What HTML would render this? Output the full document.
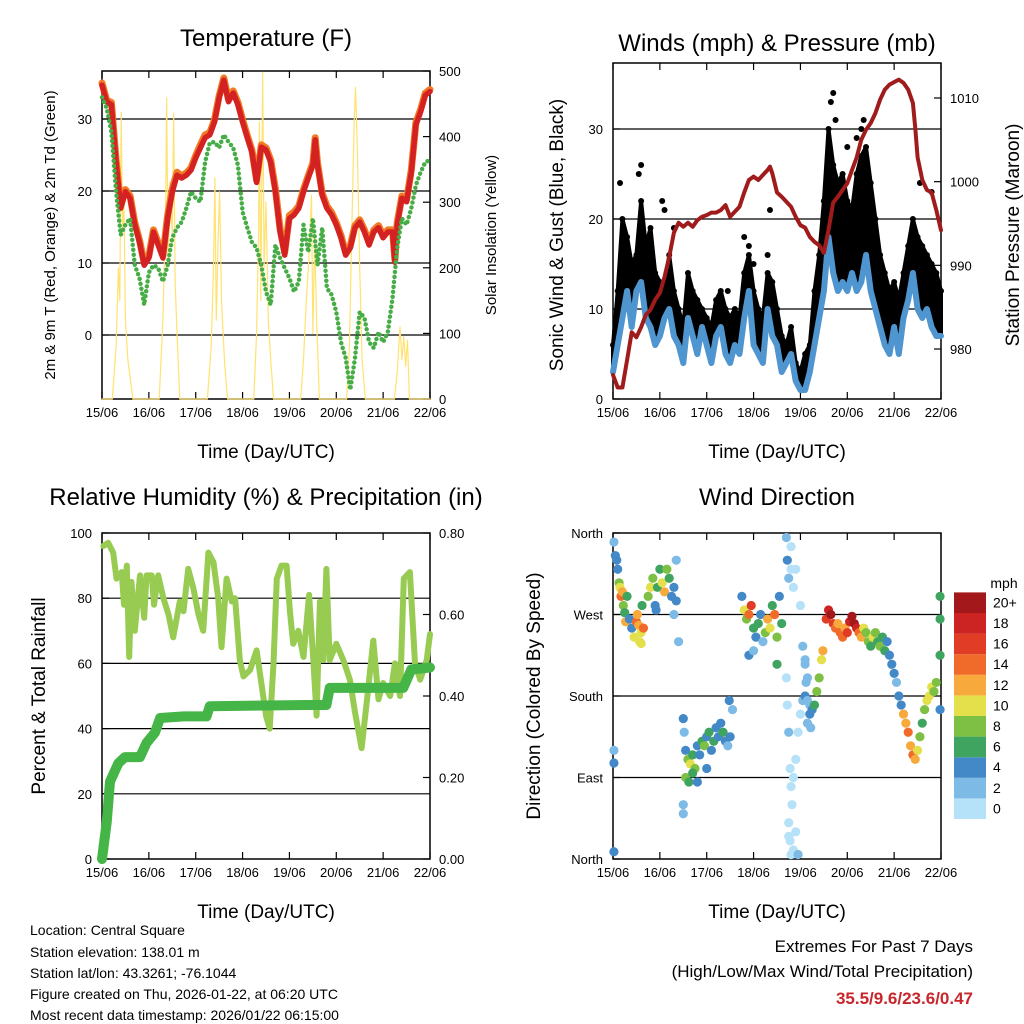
<!DOCTYPE html>
<html><head><meta charset="utf-8"><style>
html,body{margin:0;padding:0;background:#fff;}
svg{display:block;font-family:"Liberation Sans",Arial,sans-serif;}
</style></head><body>
<svg id="root" width="1024" height="1024" viewBox="0 0 1024 1024" xmlns="http://www.w3.org/2000/svg">
<g font-size="24" text-anchor="middle" fill="#000">
<text x="266" y="46">Temperature (F)</text>
<text x="777" y="51">Winds (mph) &amp; Pressure (mb)</text>
<text x="266" y="505">Relative Humidity (%) &amp; Precipitation (in)</text>
<text x="777" y="505">Wind Direction</text>
</g>
<g font-size="19" text-anchor="middle">
<text x="266" y="458">Time (Day/UTC)</text>
<text x="777" y="458">Time (Day/UTC)</text>
<text x="266" y="918">Time (Day/UTC)</text>
<text x="777" y="918">Time (Day/UTC)</text>
<text transform="translate(55,235) rotate(-90)" font-size="15">2m &amp; 9m T (Red, Orange) &amp; 2m Td (Green)</text>
<text transform="translate(496,235) rotate(-90)" font-size="15">Solar Insolation (Yellow)</text>
<text transform="translate(563,235) rotate(-90)">Sonic Wind &amp; Gust (Blue, Black)</text>
<text transform="translate(1019,235) rotate(-90)">Station Pressure (Maroon)</text>
<text transform="translate(45,696) rotate(-90)">Percent &amp; Total Rainfall</text>
<text transform="translate(540,696) rotate(-90)">Direction (Colored By Speed)</text>
</g>
<g font-size="14">
<text x="30" y="935">Location: Central Square</text>
<text x="30" y="957">Station elevation: 138.01 m</text>
<text x="30" y="978">Station lat/lon: 43.3261; -76.1044</text>
<text x="30" y="999">Figure created on Thu, 2026-01-22, at 06:20 UTC</text>
<text x="30" y="1020">Most recent data timestamp: 2026/01/22 06:15:00</text>
</g>
<g font-size="17" text-anchor="end">
<text x="973" y="952">Extremes For Past 7 Days</text>
<text x="973" y="977">(High/Low/Max Wind/Total Precipitation)</text>
<text x="973" y="1004" fill="#c8262c" font-weight="bold">35.5/9.6/23.6/0.47</text>
</g>
<g id="charts"></g>
</svg>
<script>
const dayLabels=["15/06","16/06","17/06","18/06","19/06","20/06","21/06","22/06"];
const tempTicks=[0,10,20,30];
const solarTicks=[0,100,200,300,400,500];
const windTicks=[0,10,20,30];
const presTicks=[980,990,1000,1010];
const rhTicks=[0,20,40,60,80,100];
const precipTicks=["0.00","0.20","0.40","0.60","0.80"];
const dirTickVals=[0,90,180,270,360];
const dirTickNames=["North","East","South","West","North"];
const speedBins=["0","2","4","6","8","10","12","14","16","18","20+"];

const tempDays=[0,0.1,0.2,0.3,0.4,0.5,0.6,0.7,0.8,0.9,1,1.1,1.2,1.3,1.4,1.5,1.6,1.7,1.8,1.9,2,2.1,2.2,2.3,2.4,2.5,2.6,2.7,2.8,2.9,3,3.1,3.2,3.3,3.4,3.5,3.6,3.7,3.8,3.9,4,4.1,4.2,4.3,4.4,4.5,4.55,4.6,4.7,4.8,4.9,5,5.1,5.2,5.3,5.4,5.5,5.6,5.7,5.8,5.9,6,6.1,6.2,6.25,6.3,6.4,6.5,6.6,6.7,6.8,6.9,7];
const temp2m=[34.7,32.4,32,24,17.6,19.9,19,15.3,12.9,9.7,10.7,14.3,12.5,10.7,16.2,19.9,22.2,21.8,22.2,22.9,24.6,26,27.4,27.8,29.6,32.9,35.4,32.4,33.6,32,29.6,27.4,25.4,21.2,26.1,25.7,24,19.9,14.3,11.1,16.2,16.7,17.6,19.9,21.8,23.6,27.1,23.6,19.4,17.6,16.7,15.3,13.5,11.1,12.1,14.9,15.7,14.3,12.5,14.3,14.9,13.5,14.3,14.3,10.1,15.3,19,18.5,22.6,29.2,31,33.3,33.8];
const temp9m=[35,32.6,32.3,24.3,17.9,20.2,19.3,15.6,13.2,10,11,14.6,12.8,11,16.6,20.3,22.6,22.1,22.5,23.2,24.9,26.4,27.8,28.1,29.9,33.2,35.7,32.7,33.9,32.3,29.9,27.7,25.7,21.5,26.4,26,24.3,20.3,14.7,11.5,16.6,17.1,17.9,20.2,22.1,23.9,27.4,23.9,19.7,17.9,17,15.6,13.8,11.4,12.4,15.2,16,14.6,12.8,14.6,15.2,13.8,14.6,14.6,10.4,15.6,19.3,18.8,22.9,29.5,31.3,33.6,34.1];
const dewDays=[0,0.1,0.2,0.3,0.4,0.5,0.6,0.7,0.8,0.9,1,1.1,1.2,1.3,1.4,1.5,1.6,1.7,1.8,1.9,2,2.1,2.2,2.3,2.4,2.5,2.6,2.7,2.8,2.9,3,3.1,3.2,3.3,3.4,3.5,3.6,3.7,3.8,3.9,4,4.1,4.2,4.3,4.4,4.5,4.6,4.7,4.8,4.9,5,5.1,5.2,5.3,5.4,5.5,5.6,5.7,5.8,5.9,6,6.1,6.2,6.3,6.4,6.5,6.6,6.7,6.8,6.9,7];
const dewPoint=[33,31.5,28.2,19.9,13.9,15.3,16.2,9.7,7.9,4.2,8.7,9.7,9.3,7.4,9.7,13.5,14.9,15.7,17.6,19.9,19,18.5,24,26.7,26.8,26,27.8,26.8,26,23.6,17.1,14.9,12.9,12.1,9.7,6,4.2,12.5,10.7,9.3,7.9,6,7.4,15.3,11.5,16.2,9.7,14.9,6.5,5.6,3.2,-1,-3.2,-7.6,-3.2,3.2,2.4,-1,-1.8,0.4,-1,0.4,5.1,12.1,16.2,15.3,17.6,20.8,22.6,24,24.3];
const solarDays=[0,0.22,0.3,0.35,0.38,0.41,0.44,0.47,0.5,0.55,0.66,1.22,1.3,1.36,1.38,1.41,1.45,1.5,1.53,1.56,1.6,1.66,2.25,2.33,2.38,2.41,2.44,2.48,2.51,2.55,2.62,2.68,3.24,3.3,3.34,3.36,3.39,3.43,3.46,3.5,3.55,3.6,3.66,4.24,4.3,4.36,4.42,4.47,4.5,4.54,4.58,4.64,5.22,5.28,5.33,5.38,5.41,5.45,5.5,5.55,5.62,6.24,6.3,6.36,6.4,6.44,6.48,6.52,6.56,7];
const solarVals=[0,0,80,200,150,437,250,300,120,60,0,0,120,300,459,200,330,250,436,180,100,0,0,80,200,337,120,250,316,150,50,0,0,100,250,422,150,498,200,300,120,60,0,0,60,150,220,311,100,250,120,0,0,80,250,420,475,380,200,60,0,0,40,110,60,95,50,90,0,0];

const windDays=[0,0.1,0.2,0.3,0.4,0.5,0.6,0.7,0.8,0.9,1,1.1,1.2,1.3,1.4,1.5,1.6,1.7,1.8,1.9,2,2.1,2.2,2.3,2.4,2.5,2.6,2.7,2.8,2.9,3,3.1,3.2,3.3,3.4,3.5,3.6,3.7,3.8,3.9,4,4.1,4.2,4.3,4.4,4.5,4.6,4.7,4.8,4.9,5,5.1,5.2,5.3,5.4,5.5,5.6,5.7,5.8,5.9,6,6.1,6.2,6.3,6.4,6.5,6.6,6.7,6.8,6.9,7];
const windSpeed=[3,6,9,12,8,12,13,9,8,6,7,9,10,7,6,4,9,7,5,8,6,4,7,8,5,4,6,5,9,12,6,5,4,10,7,6,3,4,5,2,1,1,3,6,9,12,18,14,12,13,12,14,12,13,16,12,10,8,6,5,8,5,9,11,14,10,9,10,8,7,7];
const windGust=[6,12,20,18,15,16,22,17,19,14,13,12,16,12,10,8,14,12,11,10,9,8,11,12,10,9,10,9,14,16,12,10,9,14,13,10,7,6,8,4,3,5,6,12,16,22,30,26,24,25,22,21,25,27,28,24,20,16,14,12,13,11,14,17,20,18,17,16,15,14,12];
const gustOutDays=[0.15,0.55,0.6,1.05,1.1,1.3,2.45,2.8,2.9,3.0,3.3,3.35,4.65,4.7,4.75,5.0,5.2,5.3,5.35,6.55,6.8];
const gustOutVals=[24,25,26,22,21,19,12,18,17,15,16,21,33,34,31,28,29,30,31,24,23];
const presDays=[0,0.1,0.2,0.3,0.4,0.5,0.6,0.7,0.8,0.9,1,1.1,1.2,1.3,1.4,1.5,1.6,1.7,1.8,1.9,2,2.1,2.2,2.3,2.4,2.5,2.6,2.7,2.8,2.9,3,3.1,3.2,3.3,3.35,3.4,3.5,3.6,3.7,3.8,3.9,4,4.1,4.2,4.3,4.4,4.5,4.6,4.7,4.8,4.9,5,5.1,5.2,5.3,5.4,5.5,5.6,5.7,5.8,5.9,6,6.1,6.2,6.3,6.4,6.45,6.5,6.6,6.7,6.8,6.9,7];
const presVals=[976.9,975.4,975.4,978.7,982,981.4,982.6,984.1,984.7,985.9,986.7,988.6,991,993.9,995.1,994.6,995.1,994.6,995.4,995.8,996,996.3,996.3,996.6,997.2,995.8,996.4,997,998.7,1000.2,1000.6,1000.2,1000.8,1001.4,1001.8,1001,998.7,998.2,997.6,997,995.8,994.8,994.5,993.4,992.8,992.4,991.5,994.2,997.5,998.2,999,999.8,1001.4,1002.9,1005,1006.2,1007,1008.2,1009.8,1011,1011.6,1011.9,1012.2,1011.8,1011,1009.4,1006.5,1002.9,1000.2,999,998.7,996.6,994.2];

const rhDays=[0.03,0.13,0.24,0.31,0.42,0.47,0.53,0.58,0.63,0.7,0.81,0.9,0.95,1.06,1.11,1.2,1.31,1.42,1.52,1.66,1.74,1.84,1.95,2.06,2.16,2.27,2.38,2.48,2.55,2.66,2.77,2.84,2.94,3.02,3.16,3.3,3.41,3.5,3.58,3.66,3.73,3.83,3.94,4.01,4.08,4.19,4.3,4.42,4.51,4.58,4.65,4.72,4.79,4.86,5.0,5.15,5.29,5.4,5.54,5.65,5.79,5.9,6.0,6.15,6.25,6.36,6.44,6.57,6.68,6.79,6.93,7.0];
const rhVals=[96,97,94,86,88,78,90,62,85,70,87,74,87,87,78,87,80,75,68,79,76,89,83,75,70,94,91,80,65,86,79,80,61,56,58,64,53,44,40,60,86,90,90,76,66,70,62,81,61,44,79,61,89,61,66,61,55,45,34,48,67,49,54,50,60,50,86,88,60,55,61,69];
const precipDays=[0,0.1,0.17,0.35,0.49,0.81,0.95,1.13,1.24,1.74,2.23,2.3,4.37,4.79,4.86,6.43,6.6,7.0];
const precipVals=[0,0.09,0.19,0.235,0.25,0.25,0.285,0.31,0.346,0.35,0.35,0.375,0.378,0.378,0.42,0.42,0.465,0.47];

const dirDays=[0.02,0.05,0.08,0.1,0.13,0.15,0.17,0.2,0.22,0.25,0.27,0.3,0.35,0.4,0.45,0.5,0.52,0.55,0.6,0.62,0.65,0.57,0.6,
0.75,0.8,0.85,0.9,0.95,1.0,1.05,1.1,1.15,1.2,1.25,1.3,1.35,0.92,1.3,1.35,1.4,0.02,0.02,0.02,
1.5,1.52,1.55,1.6,1.65,1.7,1.75,1.8,1.85,1.9,1.95,2.0,2.05,2.1,2.15,2.2,2.25,2.3,2.35,2.4,2.45,2.5,2.55,2.48,1.55,1.62,1.8,1.5,1.5,2.0,1.7,
2.75,2.8,2.85,2.9,2.95,3.0,3.05,3.1,3.15,3.2,3.25,3.3,3.35,3.4,3.45,3.5,3.55,3.6,3.5,2.9,3.0,
3.7,3.72,3.75,3.8,3.8,3.85,3.7,3.72,3.75,3.78,3.8,3.82,3.75,3.78,3.8,3.85,3.9,3.85,3.9,3.95,4.0,4.0,3.9,3.75,3.95,4.05,4.1,4.15,4.15,4.1,4.2,4.25,
4.05,4.1,4.12,4.15,4.2,4.22,4.3,4.35,4.4,4.45,4.48,
4.55,4.6,4.65,4.7,4.75,4.8,4.85,4.9,4.95,5.0,5.05,5.1,5.15,5.2,5.25,5.3,5.35,5.4,5.45,5.5,
5.55,5.6,5.65,5.7,5.75,5.8,5.85,5.9,5.95,6.0,6.05,6.1,6.15,6.2,6.25,6.3,6.35,6.4,6.45,6.5,6.55,6.6,6.65,6.7,6.75,6.8,6.85,6.9,6.98,6.98,6.98,6.98];
const dirVals=[350,335,330,320,305,300,290,295,280,272,262,290,265,255,245,262,270,258,250,280,255,240,238,
290,300,310,280,300,320,305,295,320,310,290,300,285,275,270,330,240,106,120,8,
155,140,120,110,105,115,100,125,115,130,125,135,140,120,130,145,135,150,140,130,125,135,165,175,90,85,85,60,50,100,95,
290,275,265,270,280,255,245,260,270,240,250,265,255,280,270,245,290,260,215,225,230,
355,330,310,345,320,300,200,170,140,100,80,60,40,20,5,10,30,90,110,140,160,280,320,25,5,175,220,200,150,180,170,165,
235,215,195,175,160,145,170,185,200,220,230,
265,275,270,260,255,260,250,245,255,250,262,268,260,255,250,245,255,250,240,235,
245,250,240,235,245,230,240,225,215,205,195,180,170,160,150,140,125,115,110,120,135,150,165,175,180,190,185,195,290,265,225,165];
const dirSpeeds=[3,4,4,5,8,10,14,12,8,6,12,7,5,4,11,15,13,12,10,6,14,10,11,
9,10,8,5,7,6,10,12,8,7,5,4,4,4,3,3,2,4,3,4,
4,3,5,8,10,6,8,4,4,6,8,5,7,4,6,4,5,4,7,4,3,4,3,4,8,6,4,3,2,4,6,
4,10,8,14,16,6,5,7,4,3,8,12,10,6,14,9,4,6,6,4,3,
2,4,3,1,0,1,1,1,2,1,0,1,0,0,0,1,0,0,0,1,1,1,0,1,3,2,3,2,3,4,3,4,
2,3,2,3,4,3,6,8,9,11,12,
16,18,20,16,14,13,15,14,12,16,18,20,20,18,14,12,10,8,9,7,
10,8,6,8,6,7,5,4,4,4,3,4,5,12,13,14,12,14,13,10,8,7,9,10,10,11,9,8,6,6,6,4];

const NS='http://www.w3.org/2000/svg';
const root=document.getElementById('charts');
function mk(tag,attrs,parent){const e=document.createElementNS(NS,tag);for(const k in attrs)e.setAttribute(k,attrs[k]);(parent||root).appendChild(e);return e;}
function lin(d0,d1,r0,r1){return v=>r0+(v-d0)/(d1-d0)*(r1-r0);}
function pathFrom(xs,ys,fx,fy){let s='';for(let i=0;i<xs.length;i++){s+=(i?'L':'M')+fx(xs[i]).toFixed(1)+','+fy(ys[i]).toFixed(1);}return s;}

function frame(P,name,gridVals,fy,leftLabels,leftVals,rightLabels,rightVals,fyR){
  const g=mk('g',{});
  
  
  gridVals.forEach(v=>{const l=mk('line',{x1:P.x0,x2:P.x1,y1:fy(v),y2:fy(v),stroke:'#000','stroke-width':1.2},g);
    
    });
  const b=mk('rect',{x:P.x0,y:P.y0,width:P.x1-P.x0,height:P.y1-P.y0,fill:'none',stroke:'#000','stroke-width':1.5},g);
  
  
  const fx=lin(0,7,P.x0,P.x1);
  dayLabels.forEach((lab,i)=>{const x=fx(i);
    mk('line',{x1:x,x2:x,y1:P.y1,y2:P.y1-7,stroke:'#000','stroke-width':1.2},g);
    mk('line',{x1:x,x2:x,y1:P.y0,y2:P.y0+7,stroke:'#000','stroke-width':1.2},g);
    const t=mk('text',{x:x,y:P.y1+18,'font-size':13,'text-anchor':'middle'},g);t.textContent=lab;
    
    });
  leftLabels.forEach((lab,i)=>{const y=fy(leftVals[i]);
    mk('line',{x1:P.x0,x2:P.x0+7,y1:y,y2:y,stroke:'#000','stroke-width':1.2},g);
    const t=mk('text',{x:P.x0-10,y:y+5,'font-size':13,'text-anchor':'end'},g);t.textContent=lab;
    
    });
  if(rightLabels){rightLabels.forEach((lab,i)=>{const y=fyR(rightVals[i]);
    mk('line',{x1:P.x1,x2:P.x1-7,y1:y,y2:y,stroke:'#000','stroke-width':1.2},g);
    const t=mk('text',{x:P.x1+9,y:y+5,'font-size':13,'text-anchor':'start'},g);t.textContent=lab;
    
    });}
  return fx;
}
function line(d,attrs,name){const p=mk('path',Object.assign({d:d,fill:'none','stroke-linejoin':'round','stroke-linecap':'round'},attrs));
  
  return p;}

// Panel 1: temperature
const P1={x0:102,x1:430,y0:71,y1:399};
const fyT=lin(0,10,335,263), fyS=lin(0,500,399,71);
const fx1=frame(P1,'temperature',[0,10,20,30],fyT,tempTicks.map(String),tempTicks,solarTicks.map(String),solarTicks,fyS);
line(pathFrom(solarDays,solarVals,fx1,fyS),{stroke:'#ffe270','stroke-width':1.2},'solar-insolation-line');
line(pathFrom(tempDays,temp9m,fx1,fyT),{stroke:'#f27a25','stroke-width':7},'temp-9m-line');
line(pathFrom(tempDays,temp2m,fx1,fyT),{stroke:'#d42222','stroke-width':5.5},'temp-2m-line');
line(pathFrom(dewDays,dewPoint,fx1,fyT),{stroke:'#46ad46','stroke-width':4.5,'stroke-dasharray':'0 5'},'dewpoint-line');

// Panel 2: winds
const P2={x0:613,x1:941,y0:63,y1:399};
const fyW=lin(0,10,399,309), fyP=lin(1010,980,98,349);
const fx2=frame(P2,'winds',[10,20,30],fyW,windTicks.map(String),windTicks,presTicks.map(String),presTicks,fyP);
(function(){let s=pathFrom(windDays,windGust,fx2,fyW);
  for(let i=windDays.length-1;i>=0;i--)s+='L'+fx2(windDays[i]).toFixed(1)+','+fyW(windSpeed[i]).toFixed(1);
  const a=mk('path',{d:s+'Z',fill:'#000',stroke:'#000','stroke-width':4,'stroke-linejoin':'round'});
  
  })();
windDays.forEach((d,i)=>{const c=mk('circle',{cx:fx2(d),cy:fyW(windGust[i]),r:3,fill:'#000'});
  
  });
gustOutDays.forEach((d,i)=>{const c=mk('circle',{cx:fx2(d),cy:fyW(gustOutVals[i]),r:3,fill:'#000'});
  
  });
line(pathFrom(windDays,windSpeed,fx2,fyW),{stroke:'#4f95cf','stroke-width':6},'wind-speed-line');
line(pathFrom(presDays,presVals,fx2,fyP),{stroke:'#a01c1c','stroke-width':4},'pressure-line');

// Panel 3: RH & precip
const P3={x0:102,x1:430,y0:533,y1:859};
const fyR=lin(0,100,859,533), fyPr=lin(0,0.8,859,533);
const fx3=frame(P3,'humidity',[20,40,60,80],fyR,rhTicks.map(String),rhTicks,precipTicks,precipTicks.map(Number),fyPr);
line(pathFrom(rhDays,rhVals,fx3,fyR),{stroke:'#98cb52','stroke-width':6},'relative-humidity-line');
line(pathFrom(precipDays,precipVals,fx3,fyPr),{stroke:'#45b547','stroke-width':10},'precipitation-line');

// Panel 4: wind direction
const P4={x0:613,x1:941,y0:533,y1:859};
const fyD=lin(0,360,859,533);
const fx4=frame(P4,'wind-direction',[90,180,270],fyD,dirTickNames,dirTickVals,null,null,null);
const binColors=['#b5e2f8','#7dbbe6','#4389c7','#3fa45f','#7dc043','#e4e04b','#f8a93c','#f06b29','#e13c26','#cc2323','#a3191b'];
function colorFor(s){return binColors[Math.min(10,Math.floor(s/2))];}
dirDays.forEach((d,i)=>{const c=mk('circle',{cx:fx4(d),cy:fyD(dirVals[i]),r:4.6,fill:colorFor(dirSpeeds[i])});
  
  });
// colorbar
const cb=mk('g',{});


const ct=mk('text',{x:1004,y:588,'font-size':14,'text-anchor':'middle'},cb);ct.textContent='mph';


speedBins.forEach((lab,i)=>{const y=819-(i+1)*20.6;
  const r=mk('rect',{x:954,y:y,width:32,height:20.6,fill:binColors[i]},cb);
  
  
  const t=mk('text',{x:993,y:y+15,'font-size':14},cb);t.textContent=lab;
  
  });
</script>
</body></html>
